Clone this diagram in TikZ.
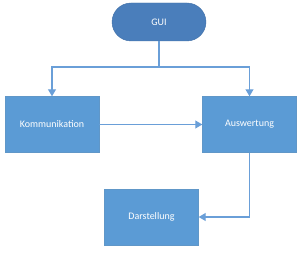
\documentclass[tikz,border=0pt]{standalone}
\usepackage{fontspec}
\setmainfont{Carlito}
\usetikzlibrary{arrows.meta,shapes.misc}
\definecolor{boxblue}{HTML}{5B9BD5}
\definecolor{guiblue}{HTML}{4A7EBB}
\definecolor{lineblue}{HTML}{6A9FD8}
\tikzset{
  box/.style={draw=boxblue!85!gray, fill=boxblue, minimum width=94pt, minimum height=56pt, inner sep=0pt, text=white, font=\fontsize{10}{12}\selectfont},
  guibox/.style={rounded rectangle, draw=guiblue!90!black, fill=guiblue, minimum width=94pt, minimum height=38pt, inner sep=0pt, text=white, font=\fontsize{10}{12}\selectfont},
  conn/.style={draw=lineblue, line width=1.1pt, -{Triangle[width=8pt,length=7pt]}},
  plain/.style={draw=lineblue, line width=1.1pt}
}
\begin{document}
\begin{tikzpicture}[x=1pt,y=-1pt]
\useasboundingbox (0,0) rectangle (302,253);
\node[guibox] (gui) at (159,22) {GUI};
\node[box] (komm) at (52,124.5) {Kommunikation};
\node[box] (ausw) at (249.5,124.5) {Auswertung};
\node[box] (dar) at (151.5,217) {Darstellung};
\coordinate (j) at (159,67);
\draw[plain] (gui.south) -- (j);
\draw[conn] (j) -| (komm.north);
\draw[conn] (j) -| (ausw.north);
\draw[conn] (komm.east) -- (ausw.west);
\draw[conn] (ausw.south) |- (dar.east);
\end{tikzpicture}
\end{document}
